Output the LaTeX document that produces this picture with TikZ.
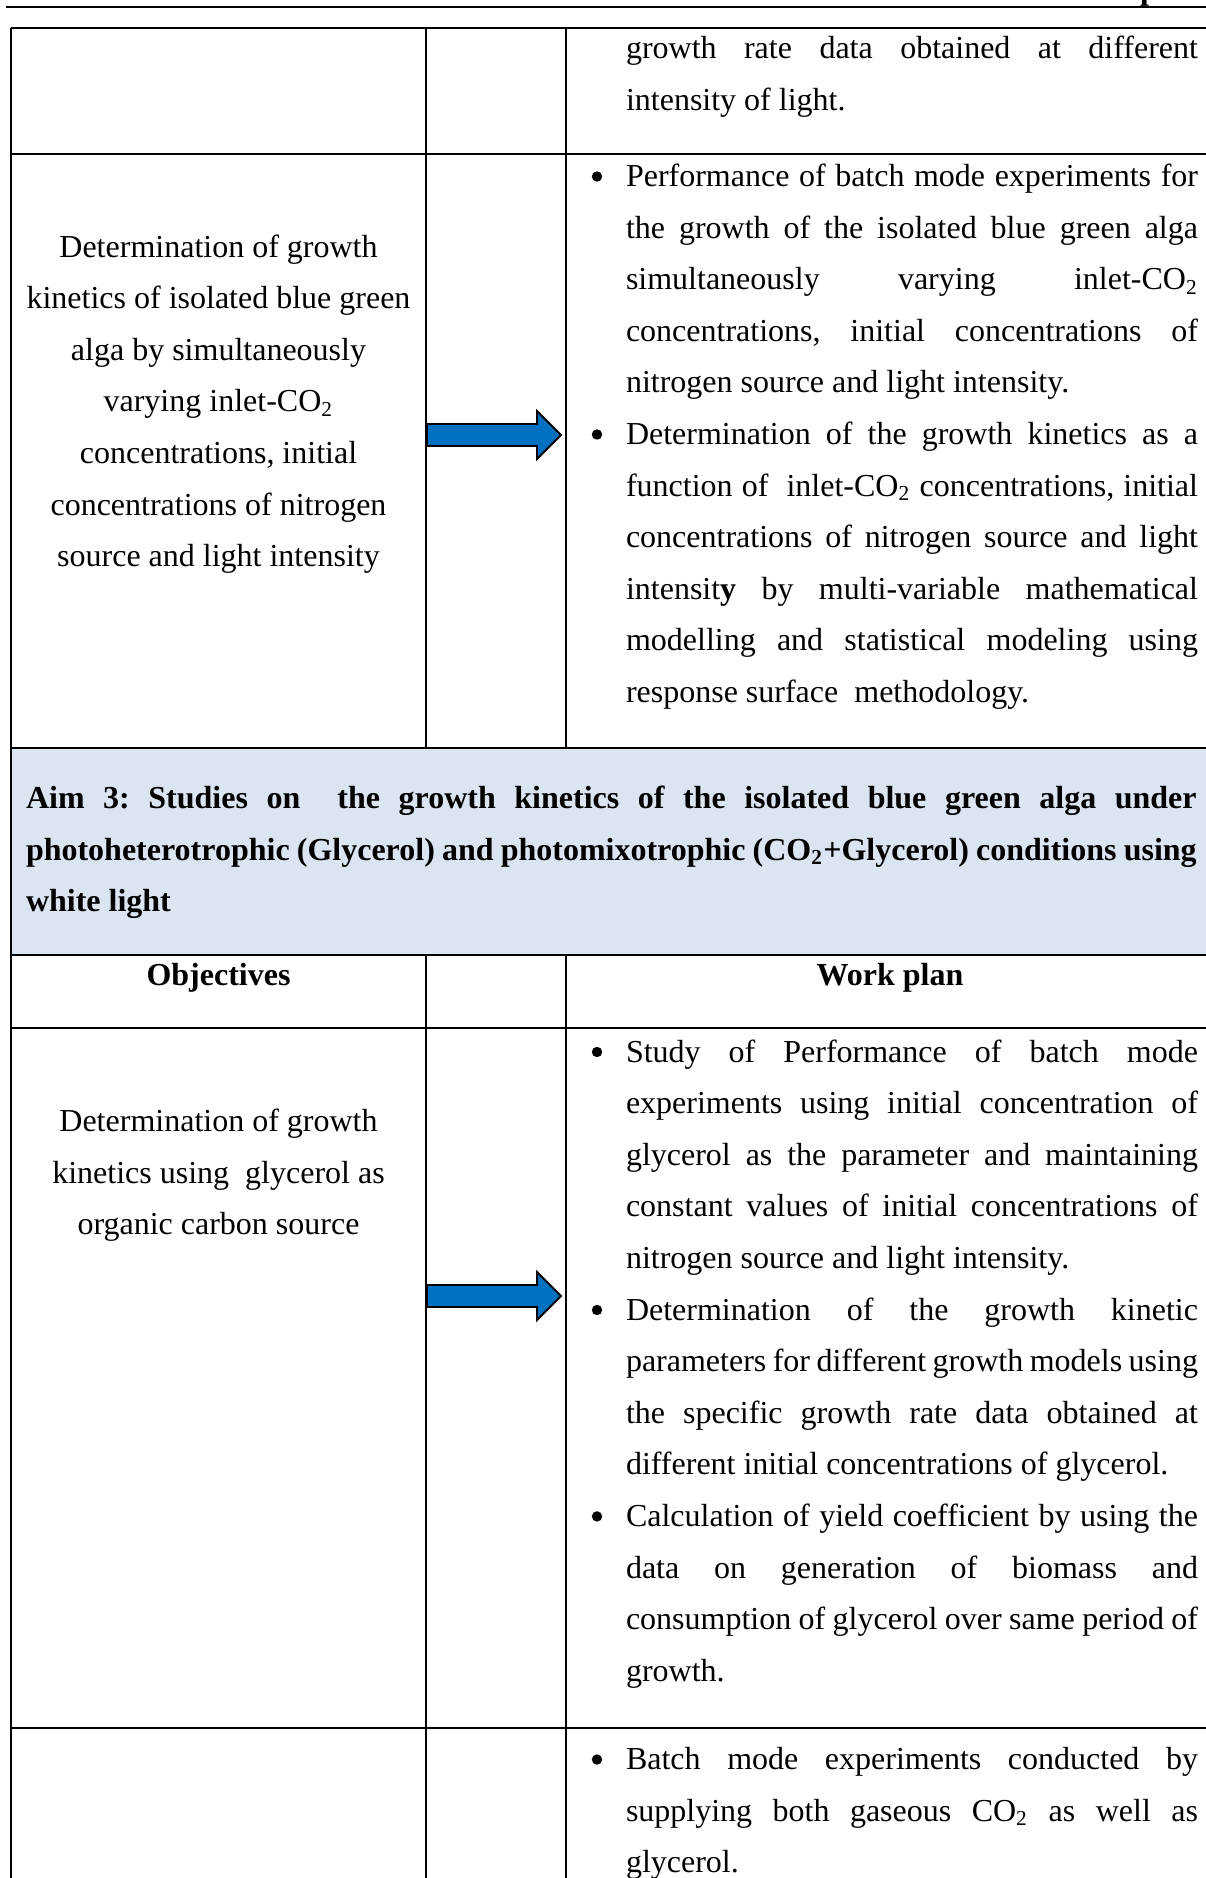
\documentclass[tikz,border=0pt]{standalone}
\usepackage{fontspec}
\setmainfont{Liberation Serif}

\definecolor{aimblue}{HTML}{DBE5F1}
\definecolor{arrowblue}{HTML}{0070C0}

% one justified line, one left-set (last) line of a paragraph
\newcommand\jl[1]{\noindent\makebox[\linewidth][s]{#1}\par}
\newcommand\fl[1]{\noindent\makebox[\linewidth][l]{#1}\par}
\newcommand\subtwo{\textsubscript{2}}

\tikzset{
  hline/.style={line width=0.95pt},
  vline/.style={line width=0.75pt},
  cellbase/.style={inner sep=0pt, outer sep=0pt, font=\fontsize{12}{19.35}\selectfont\frenchspacing},
  plan/.style={cellbase, anchor=base west},
  objective/.style={cellbase, anchor=base},
  bulletdot/.style={circle, fill=black, inner sep=0pt, minimum size=3.9pt},
  blockarrow/.style={fill=arrowblue, draw=black, line width=0.7pt, line join=miter},
}

\begin{document}
\begin{tikzpicture}[x=0.375pt, y=-0.375pt]
\useasboundingbox (0,0) rectangle (1206,1878);

% page header
\node[cellbase, anchor=base west, font=\fontsize{12}{14}\selectfont\bfseries] (hdr) at (1140,-1) {p};
\draw[hline] (6,7) -- (1206,7);

% shaded aim row
\fill[aimblue] (11,748) rectangle (1206,955);

% table rules
\foreach \yy in {28,154,748,955,1028,1728}
  \draw[hline] (11,\yy) -- (1206,\yy);
\draw[hline] (11,28) -- (11,1878);
\foreach \xx in {426,566} {
  \draw[vline] (\xx,28) -- (\xx,748);
  \draw[vline] (\xx,955) -- (\xx,1878);
}

% block arrows between objective and work plan
\foreach \cy in {435,1296}
  \filldraw[blockarrow, shift={(0,\cy)}]
    (427,-11) -- (537,-11) -- (537,-24) -- (561,0) -- (537,24) -- (537,11) -- (427,11) -- cycle;

% row 1 (continued work plan)
\node[plan] (planA) at (626,58.5) {\parbox[t]{214.5pt}{%
  \jl{growth rate data obtained at different}
  \fl{intensity of light.}}};

% row 2
\node[objective] (objB) at (218.5,257) {\parbox[t]{150pt}{\centering
  Determination of growth\\
  kinetics of isolated blue green\\
  alga by simultaneously\\
  varying inlet-CO\subtwo\\
  concentrations, initial\\
  concentrations of nitrogen\\
  source and light intensity}};

\node[plan] (planB) at (626,186.5) {\parbox[t]{214.5pt}{%
  \jl{Performance of batch mode experiments for}
  \jl{the growth of the isolated blue green alga}
  \jl{simultaneously varying inlet-CO\subtwo}
  \jl{concentrations, initial concentrations of}
  \fl{nitrogen source and light intensity.}
  \jl{Determination of the growth kinetics as a}
  \jl{function of \ inlet-CO\subtwo\ concentrations, initial}
  \jl{concentrations of nitrogen source and light}
  \jl{intensit\textbf{y} by multi-variable mathematical}
  \jl{modelling and statistical modeling using}
  \fl{response surface \ methodology.}}};
\node[bulletdot] (bB1) at (597,176.5) {};
\node[bulletdot] (bB2) at (597,434.5) {};

% aim 3 heading
\node[plan] (aim) at (26,808.5) {\parbox[t]{439pt}{\bfseries
  \jl{Aim 3: Studies on \ the growth kinetics of the isolated blue green alga under}
  \jl{photoheterotrophic (Glycerol) and photomixotrophic (CO\subtwo+Glycerol) conditions using}
  \fl{white light}}};

% column headings
\node[objective, font=\fontsize{12}{19.35}\selectfont\bfseries] (hObj) at (218.5,985.5) {Objectives};
\node[objective, font=\fontsize{12}{19.35}\selectfont\bfseries] (hPlan) at (890,985.5) {Work plan};

% row 4
\node[objective] (objD) at (218.5,1131.5) {\parbox[t]{150pt}{\centering
  Determination of growth\\
  kinetics using \ glycerol as\\
  organic carbon source}};

\node[plan] (planD) at (626,1062) {\parbox[t]{214.5pt}{%
  \jl{Study of Performance of batch mode}
  \jl{experiments using initial concentration of}
  \jl{glycerol as the parameter and maintaining}
  \jl{constant values of initial concentrations of}
  \fl{nitrogen source and light intensity.}
  \jl{Determination of the growth kinetic}
  \jl{parameters for different growth models using}
  \jl{the specific growth rate data obtained at}
  \fl{different initial concentrations of glycerol.}
  \jl{Calculation of yield coefficient by using the}
  \jl{data on generation of biomass and}
  \jl{consumption of glycerol over same period of}
  \fl{growth.}}};
\node[bulletdot] (bD1) at (597,1052) {};
\node[bulletdot] (bD2) at (597,1310) {};
\node[bulletdot] (bD3) at (597,1516.4) {};

% row 5
\node[plan] (planE) at (626,1769.5) {\parbox[t]{214.5pt}{%
  \jl{Batch mode experiments conducted by}
  \jl{supplying both gaseous CO\subtwo\ as well as}
  \fl{glycerol.}}};
\node[bulletdot] (bE1) at (597,1759.5) {};
\end{tikzpicture}
\end{document}
